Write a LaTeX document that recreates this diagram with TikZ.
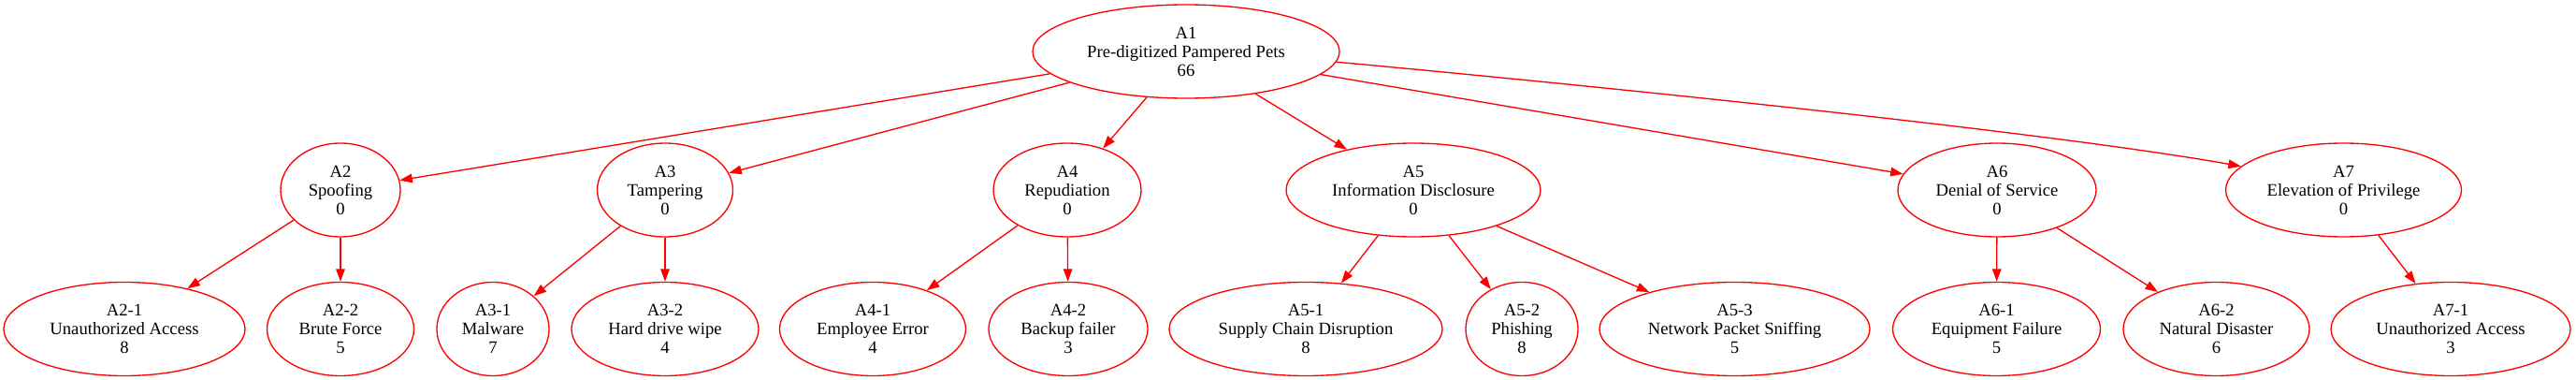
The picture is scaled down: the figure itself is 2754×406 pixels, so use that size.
\documentclass[tikz,border=0pt]{standalone}
\usepackage{fontspec}
\setmainfont{Liberation Serif}
\usetikzlibrary{arrows.meta,shapes.geometric}
\begin{document}
\begin{tikzpicture}[x=1pt,y=-1pt,
  nd/.style={ellipse, draw=red, line width=1.33pt, inner sep=0pt, minimum height=100pt},
  lb/.style={align=center, font=\fontsize{18.67pt}{20pt}\selectfont, text=black, inner sep=0pt},
  edge/.style={draw=red, line width=1.33pt, -{Triangle[length=13.5pt,width=9.5pt,fill=red]}}
]
\useasboundingbox (0,0) rectangle (2754,406);
% level 1
\node[nd, minimum width=328pt, label={[lb]center:A1\\Pre-digitized Pampered Pets\\66}] (a1) at (1268,55) {};
% level 2
\node[nd, minimum width=128pt, label={[lb]center:A2\\Spoofing\\0}] (a2) at (364,203) {};
\node[nd, minimum width=145pt, label={[lb]center:A3\\Tampering\\0}] (a3) at (711,203) {};
\node[nd, minimum width=158pt, label={[lb]center:A4\\Repudiation\\0}] (a4) at (1141,203) {};
\node[nd, minimum width=272pt, label={[lb]center:A5\\Information Disclosure\\0}] (a5) at (1511,203) {};
\node[nd, minimum width=212pt, label={[lb]center:A6\\Denial of Service\\0}] (a6) at (2135,203) {};
\node[nd, minimum width=252pt, label={[lb]center:A7\\Elevation of Privilege\\0}] (a7) at (2505.5,203) {};
% level 3
\node[nd, minimum width=258pt, label={[lb]center:A2-1\\Unauthorized Access\\8}] (a21) at (133,351.5) {};
\node[nd, minimum width=157pt, label={[lb]center:A2-2\\Brute Force\\5}] (a22) at (364,351.5) {};
\node[nd, minimum width=120pt, label={[lb]center:A3-1\\Malware\\7}] (a31) at (527,351.5) {};
\node[nd, minimum width=200pt, label={[lb]center:A3-2\\Hard drive wipe\\4}] (a32) at (711,351.5) {};
\node[nd, minimum width=199pt, label={[lb]center:A4-1\\Employee Error\\4}] (a41) at (933,351.5) {};
\node[nd, minimum width=170pt, label={[lb]center:A4-2\\Backup failer\\3}] (a42) at (1142,351.5) {};
\node[nd, minimum width=292pt, label={[lb]center:A5-1\\Supply Chain Disruption\\8}] (a51) at (1396,351.5) {};
\node[nd, minimum width=120pt, label={[lb]center:A5-2\\Phishing\\8}] (a52) at (1627,351.5) {};
\node[nd, minimum width=289pt, label={[lb]center:A5-3\\Network Packet Sniffing\\5}] (a53) at (1854.5,351.5) {};
\node[nd, minimum width=222pt, label={[lb]center:A6-1\\Equipment Failure\\5}] (a61) at (2134.5,351.5) {};
\node[nd, minimum width=199pt, label={[lb]center:A6-2\\Natural Disaster\\6}] (a62) at (2369.5,351.5) {};
\node[nd, minimum width=256pt, label={[lb]center:A7-1\\Unauthorized Access\\3}] (a71) at (2620,351.5) {};
% edges
\draw[edge] (a1) -- (a2);
\draw[edge] (a1) -- (a3);
\draw[edge] (a1) -- (a4);
\draw[edge] (a1) -- (a5);
\draw[edge] (a1) -- (a6);
\draw[edge] (a1.-4.2) .. controls (1730,94) and (2195,142) .. (a7.167);
\draw[edge] (a2) -- (a21);
\draw[edge] (a2) -- (a22);
\draw[edge] (a3) -- (a31);
\draw[edge] (a3) -- (a32);
\draw[edge] (a4) -- (a41);
\draw[edge] (a4) -- (a42);
\draw[edge] (a5) -- (a51);
\draw[edge] (a5) -- (a52);
\draw[edge] (a5) -- (a53);
\draw[edge] (a6) -- (a61);
\draw[edge] (a6) -- (a62);
\draw[edge] (a7) -- (a71);
\end{tikzpicture}
\end{document}
